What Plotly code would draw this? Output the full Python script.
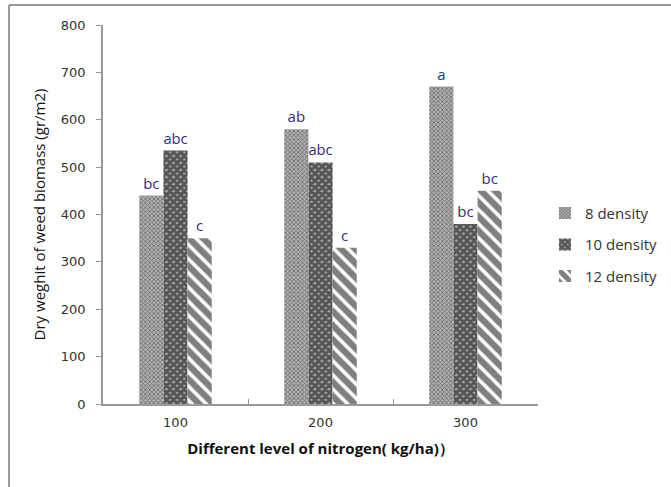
import plotly.graph_objects as go

categories = ["100", "200", "300"]
d8 = [440, 580, 670]
d10 = [535, 510, 380]
d12 = [350, 330, 450]
lab8 = ["bc", "ab", "a"]
lab10 = ["abc", "abc", "bc"]
lab12 = ["c", "c", "bc"]
series_names = ["8 density", "10 density", "12 density"]
y_ticks = [0, 100, 200, 300, 400, 500, 600, 700, 800]

text_font = "Open Sans, Lato, sans-serif"
axis_font = "DejaVu Sans, Verdana, sans-serif"
label_font = dict(family=text_font, size=15, color="#2e2e80")

fig = go.Figure()
fig.add_trace(go.Bar(
    x=categories, y=d8, name=series_names[0], text=lab8, textposition="outside",
    textfont=label_font, cliponaxis=False, legendgroup="a",
    marker=dict(color="white", line=dict(width=0),
                pattern=dict(shape="x", size=3, solidity=0.45, fgcolor="#222", bgcolor="#b0b0b0")),
))
fig.add_trace(go.Bar(
    x=categories, y=d10, name=series_names[1], text=lab10, textposition="outside",
    textfont=label_font, cliponaxis=False, legendgroup="b",
    marker=dict(color="white", line=dict(width=0),
                pattern=dict(shape="x", size=5, solidity=0.8, fgcolor="#000", bgcolor="#aaa")),
))
fig.add_trace(go.Bar(
    x=categories, y=d12, name=series_names[2], text=lab12, textposition="outside",
    textfont=label_font, cliponaxis=False, legendgroup="c",
    marker=dict(color="white", line=dict(width=0),
                pattern=dict(shape="\\", size=10, solidity=0.65, fgcolor="#000", bgcolor="#fff")),
))

# outer frame (top and left borders)
fig.add_shape(type="line", xref="paper", yref="paper", x0=-0.216, x1=1.31, y0=1.053, y1=1.053,
              line=dict(color="#999", width=2))
fig.add_shape(type="line", xref="paper", yref="paper", x0=-0.216, x1=-0.216, y0=1.053, y1=-0.23,
              line=dict(color="#999", width=2))

fig.update_layout(
    width=671, height=487,
    margin=dict(l=103, r=133, t=25, b=83, autoexpand=False),
    paper_bgcolor="white", plot_bgcolor="white",
    barmode="group", bargap=0.5, bargroupgap=0,
    font=dict(family=axis_font, size=13, color="#333"),
    legend=dict(x=1.016, y=0.42, xanchor="left", yanchor="middle",
                font=dict(family=text_font, size=15, color="#333"),
                tracegroupgap=9, itemsizing="constant", bgcolor="rgba(0,0,0,0)"),
    showlegend=True,
)
fig.update_xaxes(
    type="category", showline=True, linecolor="#999", linewidth=1.5,
    ticks="inside", tickson="boundaries", ticklen=5, tickcolor="#999",
    showgrid=False, tickfont=dict(size=13, color="#333"), ticklabelstandoff=6,
    title=dict(text="<b>Different level of nitrogen( kg/ha)\uff09</b>",
               font=dict(family=text_font, size=15, color="#111"),
               standoff=14),
)
fig.update_yaxes(
    range=[0, 800], tickvals=y_ticks, showline=True, linecolor="#999", linewidth=1.5,
    ticks="outside", ticklen=5, tickcolor="#999", showgrid=False, zeroline=False,
    tickfont=dict(size=13, color="#333"), ticklabelstandoff=8,
    title=dict(text="Dry weghit of weed biomass (gr/m2)",
               font=dict(family=text_font, size=15, color="#111"),
               standoff=12),
)
fig.write_html("out.html")
